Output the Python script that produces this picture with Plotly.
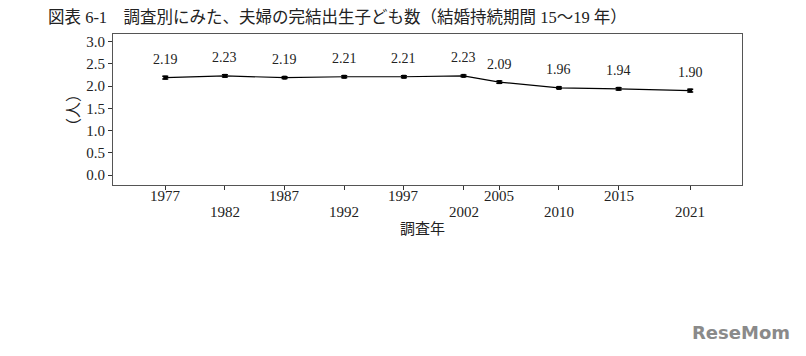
import plotly.graph_objects as go

years = [1977, 1982, 1987, 1992, 1997, 2002, 2005, 2010, 2015, 2021]
values = [2.19, 2.23, 2.19, 2.21, 2.21, 2.23, 2.09, 1.96, 1.94, 1.90]
errors = [0.03, 0.025, 0.02, 0.02, 0.025, 0.02, 0.025, 0.02, 0.025, 0.03]
y_ticks = [0.0, 0.5, 1.0, 1.5, 2.0, 2.5, 3.0]
title = "図表 6-1　調査別にみた、夫婦の完結出生子ども数（結婚持続期間 15～19 年）"

serif = "Liberation Serif, Noto Sans CJK JP, serif"
cjk = "Noto Sans CJK JP, sans-serif"

# page has an 8px body margin, so the figure is drawn 8px smaller
W, H = 798, 348
L, T = 105, 26
R = W - 734
B = H - 177
pw, ph = W - L - R, H - T - B
bottom_px = T + ph

fig = go.Figure()
fig.add_trace(go.Scatter(
    x=years, y=values,
    mode="lines+markers",
    line=dict(color="black", width=1.2),
    marker=dict(color="black", size=4, symbol="square"),
    error_y=dict(type="data", array=errors, visible=True, color="black", thickness=1.5, width=3),
    showlegend=False,
    cliponaxis=False,
))

annotations = []
# data labels
for x, v in zip(years, values):
    annotations.append(dict(
        x=x, y=v, xref="x", yref="y", text=f"{v:.2f}", showarrow=False,
        yanchor="middle", yshift=18,
        font=dict(family=serif, size=14, color="#222"),
    ))
# alternating tick labels (two rows)
for i, x in enumerate(years):
    row_y = 188 if i % 2 == 0 else 204
    annotations.append(dict(
        x=x, y=0, xref="x", yref="paper", text=str(x), showarrow=False,
        yanchor="middle", yshift=-(row_y - bottom_px),
        font=dict(family=serif, size=15, color="#222"),
    ))
# axis titles
annotations.append(dict(
    x=(414.5 - L) / pw, y=0, xref="paper", yref="paper", text="調査年", showarrow=False,
    yanchor="middle", yshift=-(219 - bottom_px),
    font=dict(family=cjk, size=15, color="#222"),
))
annotations.append(dict(
    x=(64 - L) / pw, y=(bottom_px - 102) / ph, xref="paper", yref="paper",
    text="（人）", textangle=-90, showarrow=False,
    xanchor="center", yanchor="middle",
    font=dict(family=cjk, size=16, color="#222"),
))
# logo
annotations.append(dict(
    text="<b>ReseMom</b>", xref="paper", yref="paper", x=(784 - L) / pw, y=-(324 - bottom_px) / ph,
    xanchor="right", yanchor="middle", showarrow=False,
    font=dict(family="DejaVu Sans, sans-serif", size=18, color="#8a8a8a"),
))

fig.update_layout(
    width=W, height=H,
    margin=dict(l=L, r=R, t=T, b=B, autoexpand=False),
    paper_bgcolor="white", plot_bgcolor="white",
    title=dict(text=title, x=40 / W, xanchor="left", y=1 - 9.5 / H, yanchor="middle",
               font=dict(family=serif, size=16.5, color="#222")),
    xaxis=dict(
        range=[1972.62, 2025.34], tickvals=years, showticklabels=False,
        ticks="outside", ticklen=4, tickcolor="#333",
        showgrid=False, zeroline=False, automargin=False,
        showline=True, linecolor="#555", linewidth=1, mirror=True,
    ),
    yaxis=dict(
        range=[-0.22, 3.17], tickvals=y_ticks, tickformat=".1f",
        ticks="outside", ticklen=4, tickcolor="#333",
        showgrid=False, zeroline=False, automargin=False,
        showline=True, linecolor="#555", linewidth=1, mirror=True,
        tickfont=dict(family=serif, size=15, color="#222"),
    ),
    annotations=annotations,
)

fig.write_html("out.html")
